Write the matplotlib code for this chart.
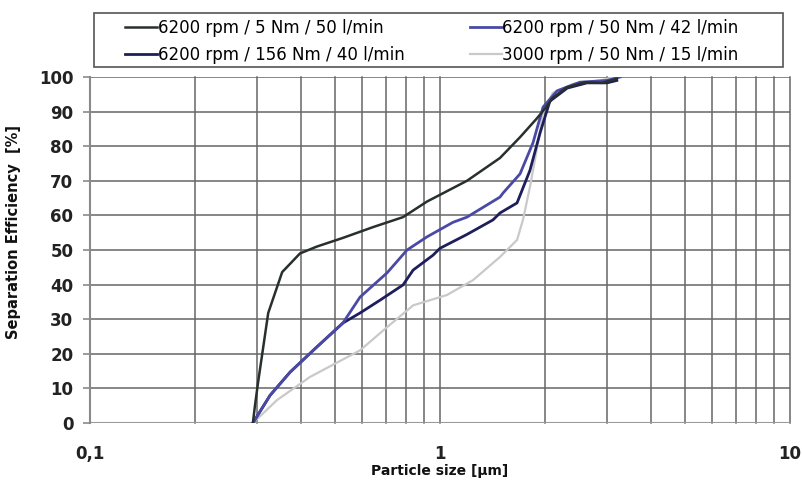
import matplotlib
matplotlib.use("Agg")
import matplotlib.pyplot as plt
from matplotlib.patches import Rectangle
from matplotlib.ticker import FixedLocator, NullLocator, FixedFormatter

plt.rcParams['font.family'] = ['DejaVu Sans']

labels = ["6200 rpm / 5 Nm / 50 l/min", "6200 rpm / 50 Nm / 42 l/min",
          "6200 rpm / 156 Nm / 40 l/min", "3000 rpm / 50 Nm / 15 l/min"]

x_5nm = [0.292, 0.296, 0.302, 0.323, 0.354, 0.398, 0.445, 0.528, 0.643, 0.784, 0.918,
         1.194, 1.484, 1.693, 1.89, 2.0, 2.1, 2.3, 2.6, 2.9, 3.2]
y_5nm = [0, 5, 11.6, 31.8, 43.6, 49, 51, 53.5, 56.6, 59.5, 64,
         70, 76.6, 82.6, 88, 91, 94, 97, 98.5, 98.3, 99.5]

x_50nm = [0.292, 0.327, 0.373, 0.445, 0.528, 0.591, 0.706, 0.805, 0.918, 1.089,
          1.194, 1.484, 1.515, 1.693, 1.844, 1.97, 2.16, 2.51, 3.0, 3.27]
y_50nm = [0, 8, 14.7, 22, 28.9, 36.4, 43.4, 50, 53.8, 58,
          59.5, 65.3, 66.5, 72, 81, 91.3, 96, 98.5, 99, 100]

x_156nm = [0.292, 0.327, 0.373, 0.445, 0.528, 0.591, 0.674, 0.784, 0.838, 0.955, 1.0,
           1.194, 1.417, 1.484, 1.66, 1.807, 1.931, 2.06, 2.31, 2.63, 3.0, 3.2]
y_156nm = [0, 8, 14.7, 22, 28.9, 31.8, 35.5, 39.9, 44.2, 48.5, 50.5,
           54.5, 58.7, 60.7, 63.6, 73, 83.8, 93, 96.8, 98.3, 98.3, 99]

x_3000 = [0.292, 0.342, 0.425, 0.591, 0.706, 0.838, 1.047, 1.243, 1.484, 1.66, 1.726,
          1.807, 1.89, 1.97, 2.10, 2.40, 2.86, 3.16]
y_3000 = [0, 6.6, 13.3, 21, 27.7, 34, 37, 41.3, 48, 52.9, 58.7,
          68.2, 79, 89.6, 95.4, 98, 99, 100]

x_ticks = [0.1, 1, 10]
x_ticklabels = ["0,1", "1", "10"]
y_ticks = list(range(0, 101, 10))

W, H = 802, 480
fig = plt.figure(figsize=(W / 100, H / 100), dpi=100)
ax = fig.add_axes([90 / W, 1 - 423 / H, 700 / W, 346 / H])

grid_c = '#666666'
ax.set_xscale('log')
ax.set_xlim(0.1, 10)
ax.set_ylim(0, 100)

minor = [m * d for d in (0.1, 1) for m in range(2, 10)]
for v in minor + [1, 10]:
    ax.axvline(v, color=grid_c, lw=1.1, zorder=1, clip_on=False)
for v in y_ticks[1:]:
    ax.axhline(v, color=grid_c, lw=1.1, zorder=1)
ax.axhline(0, color='#999999', lw=1.5, zorder=1)

l4, = ax.plot(x_3000, y_3000, color='#c9c9c9', lw=1.6, zorder=3)
l3, = ax.plot(x_156nm, y_156nm, color='#1e1e5c', lw=2.0, zorder=4)
l2, = ax.plot(x_50nm, y_50nm, color='#4a4aa6', lw=2.0, zorder=5)
l1, = ax.plot(x_5nm, y_5nm, color='#28302c', lw=1.8, zorder=6)

for s in ['top', 'right', 'bottom']:
    ax.spines[s].set_visible(False)
ax.spines['left'].set_color('#8a8a8a')
ax.spines['left'].set_linewidth(1.5)

ax.xaxis.set_major_locator(FixedLocator(x_ticks))
ax.xaxis.set_major_formatter(FixedFormatter(x_ticklabels))
ax.xaxis.set_minor_locator(NullLocator())
ax.tick_params(axis='x', length=0, pad=16, labelsize=12)
ax.set_yticks(y_ticks)
ax.tick_params(axis='y', length=5, width=1.2, color='#8a8a8a', direction='out', pad=7, labelsize=12)
for t in ax.get_xticklabels() + ax.get_yticklabels():
    t.set_fontweight('bold')
    t.set_color('#222222')

fig.text(440 / W, 1 - 471 / H, "Particle size [µm]", fontsize=10, fontweight='bold',
         ha='center', va='center', color='#111111')
fig.text(14 / W, 1 - 232 / H, "Separation Efficiency  [%]", fontsize=10.5, fontweight='bold',
         ha='center', va='center', rotation=90, color='#111111')

# legend frame
fig.patches.append(Rectangle((94 / W, 1 - 67 / H), (783 - 94) / W, 54 / H,
                             transform=fig.transFigure, fill=False,
                             edgecolor='#555555', lw=1.2))
common = dict(loc='upper left', fontsize=12, frameon=False, handlelength=1.9,
              handletextpad=0.05, borderaxespad=0.0, borderpad=0.0, labelspacing=0.55)
fig.legend([l1, l3], [labels[0], labels[2]], bbox_to_anchor=(125 / W, 1 - 19 / H), **common)
fig.legend([l2, l4], [labels[1], labels[3]], bbox_to_anchor=(470 / W, 1 - 19 / H), **common)

fig.savefig("out.png", dpi=100)
